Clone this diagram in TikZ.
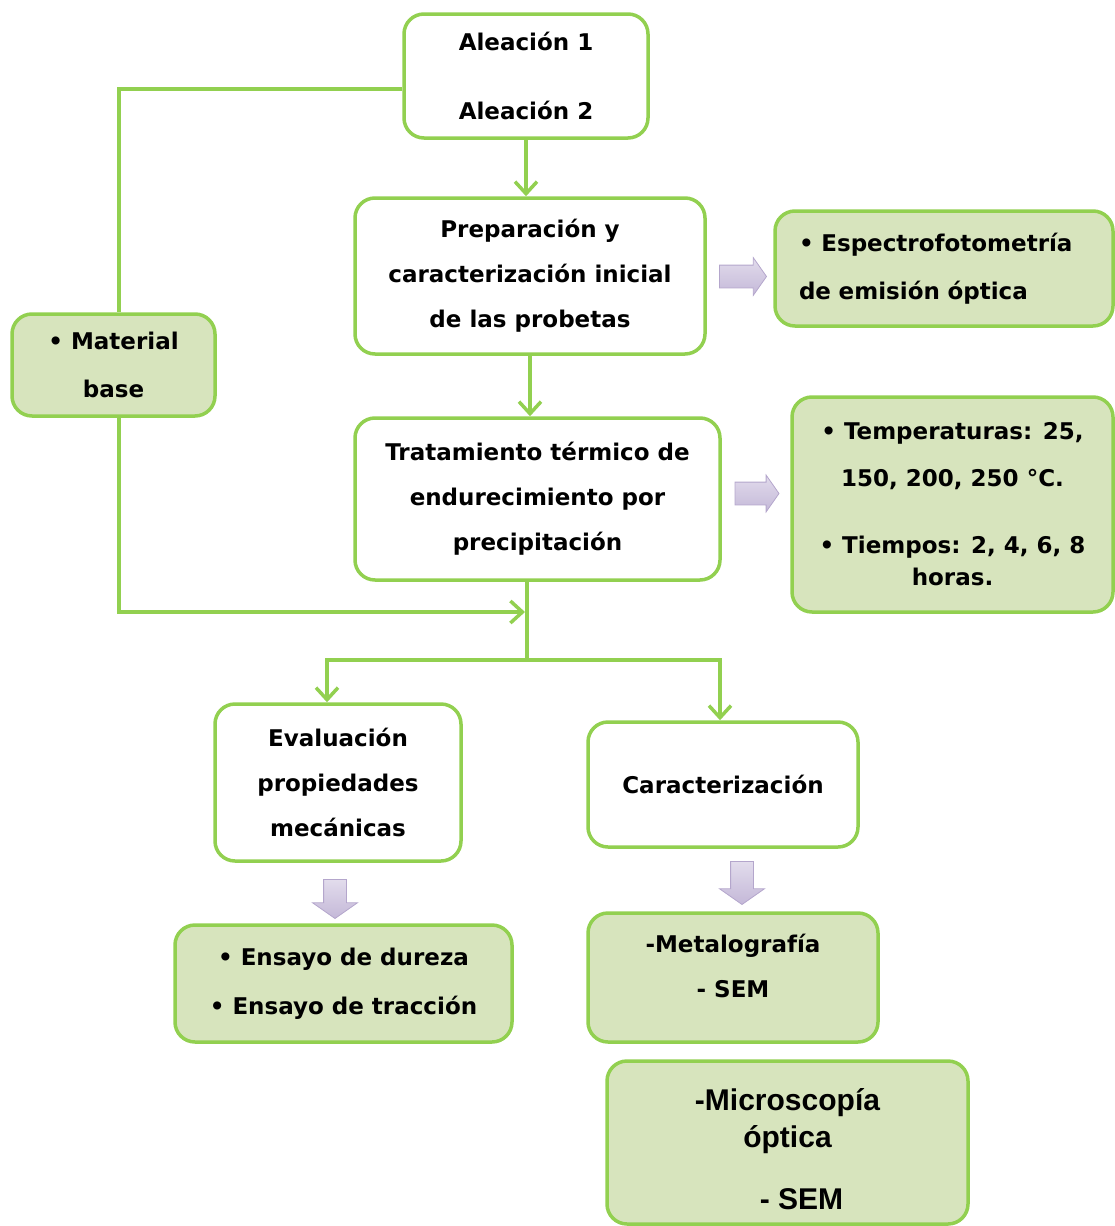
\documentclass[tikz,border=0pt]{standalone}
\usepackage{fontspec}
\setsansfont{DejaVu Sans}
\newfontfamily\arialfont{Liberation Sans}
\usetikzlibrary{arrows.meta,shapes.arrows}
\definecolor{boxgreen}{RGB}{146,208,80}
\definecolor{boxfill}{RGB}{215,228,189}
\definecolor{lavender}{RGB}{196,184,216}
\definecolor{lavlight}{RGB}{226,220,236}
\definecolor{lavedge}{RGB}{180,166,204}

\begin{document}
\begin{tikzpicture}[x=1pt, y=-1pt, >={Straight Barb[length=12pt,width=22pt]},
	every node/.style={font=\sffamily\bfseries\fontsize{23}{45}\selectfont},
	stage/.style={draw=boxgreen, line width=3.5pt, rounded corners=20pt, fill=white, align=center, inner sep=0pt},
	result/.style={stage, fill=boxfill},
	conn/.style={draw=boxgreen, line width=3.5pt},
	fatarrow/.style={single arrow, top color=lavlight, bottom color=lavender, draw=lavedge, line width=0.8pt,
		inner xsep=0pt, inner ysep=11pt, single arrow head extend=9pt, single arrow tip angle=110}]
		\useasboundingbox (0,0) rectangle (1115,1226);

		% Main process boxes
		\node[stage, minimum width=244pt, minimum height=124pt] (alea) at (526,76) {Aleación 1\\[24pt]Aleación 2};
		\node[stage, minimum width=350pt, minimum height=156pt] (prep) at (530,276) {Preparación y\\caracterización inicial\\de las probetas};
		\node[stage, minimum width=365pt, minimum height=162pt] (trat) at (537.5,499) {Tratamiento térmico de\\endurecimiento por\\precipitación};
		\node[stage, minimum width=246pt, minimum height=157pt] (eval) at (338,782.5) {Evaluación\\propiedades\\mecánicas};
		\node[stage, minimum width=270pt, minimum height=125pt] (cara) at (723,784.5) {Caracterización};

		% Detail boxes
		\node[result, minimum width=203pt, minimum height=102pt] (mat) at (113.5,365) {\textbullet{} Material\\[3pt]base};
		\node[result, align=left, text width=290pt, minimum width=338pt, minimum height=115pt] (espe) at (944,268.5) {\textbullet{} Espectrofotometría\\[3pt]de emisión óptica};
		\node[result, minimum width=321pt, minimum height=215pt] (temp) at (952.5,504.5) {\textbullet{} Temperaturas: 25,\\[2pt]150, 200, 250 °C.\\[22pt]\textbullet{} Tiempos: 2, 4, 6, 8\\[-13pt]horas.};
		\node[result, minimum width=337pt, minimum height=117pt] (ensa) at (343.5,983.5) {\textbullet{} Ensayo de dureza\\[4pt]\textbullet{} Ensayo de tracción};
		\node[result, minimum width=290pt, minimum height=129pt, text depth=24pt] (meta) at (733,977.5) {-Metalografía\\- SEM};
		\node[result, minimum width=361pt, minimum height=163pt, font=\arialfont\bfseries\fontsize{30}{37}\selectfont] (micro) at (787.5,1142.5) {\rule{0pt}{36pt}-Microscopía\\óptica\\[25pt]\hspace*{28pt}- SEM};

		% Block arrows towards the detail boxes
		\node[fatarrow, minimum height=47pt, single arrow head extend=7.5pt] (fa1) at (739,276.5) {};
		\node[fatarrow, minimum height=44pt, single arrow head extend=7pt] (fa2) at (753,493.5) {};
		\node[fatarrow, minimum height=39pt, single arrow head extend=11pt, rotate=-90] (fa3) at (335,895) {};
		\node[fatarrow, minimum height=43pt, single arrow head extend=11pt, rotate=-90] (fa4) at (742,879) {};

		% Connectors
		\coordinate (lt) at (119,89);
		\coordinate (lb) at (119,612);
		\coordinate (merge) at (525,612);
		\coordinate (split) at (527,660);
		\coordinate (sl) at (327,660);
		\coordinate (sr) at (720,660);
		\draw[conn, ->] (alea) -- (alea |- prep.north);
		\draw[conn, ->] (prep) -- (prep.south |- trat.north);
		\draw[conn] (alea.west |- lt) -- (lt) -- (lt |- mat.north);
		\draw[conn, ->] (lt |- mat.south) -- (lb) -- (merge);
		\draw[conn] (trat.south -| split) -- (split);
		\draw[conn, ->] (split) -- (sl) -- (sl |- eval.north);
		\draw[conn, ->] (split) -- (sr) -- (sr |- cara.north);
	\end{tikzpicture}
\end{document}
